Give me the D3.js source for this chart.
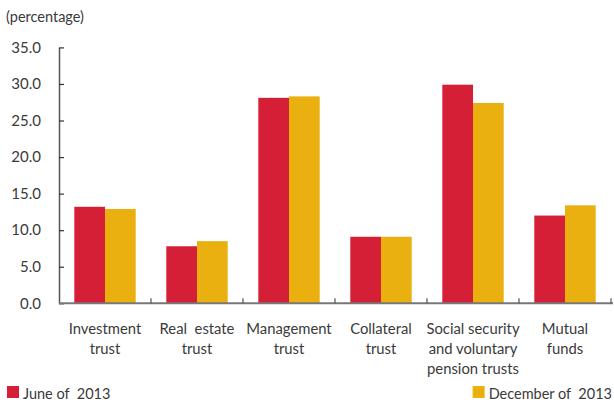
<!DOCTYPE html>
<html>
<head>
<meta charset="utf-8">
<script src="https://cdn.jsdelivr.net/npm/d3@7"></script>
<style>
  html, body { margin: 0; padding: 0; background: #fff; }
  svg { display: block; }
  text { font-family: Lato, "Open Sans", sans-serif; fill: #3a3a3a; }
</style>
</head>
<body>
<svg id="chart" width="614" height="402"></svg>
<script>
// Trust categories (each label split into lines)
const categories = [
  ["Investment", "trust"],
  ["Real  estate", "trust"],
  ["Management", "trust"],
  ["Collateral", "trust"],
  ["Social security", "and voluntary", "pension trusts"],
  ["Mutual", "funds"]
];
const seriesNames = ["June of  2013", "December of  2013"];
const june2013 = [13.2, 7.8, 28.1, 9.1, 29.9, 12.0];
const december2013 = [12.9, 8.5, 28.3, 9.1, 27.4, 13.4];
const yTicks = [0, 5, 10, 15, 20, 25, 30, 35];
const colors = ["#d51f36", "#e9b010"];

const svg = d3.select("#chart");
const plotLeft = 59, plotRight = 611, plotTop = 47.4, plotBottom = 303.3;

const keys = categories.map((c, i) => i);
const x0 = d3.scaleBand().domain(keys).range([plotLeft, plotRight]).padding(0);
const x1 = d3.scaleBand().domain([0, 1]).range([15.3, x0.bandwidth() - 15.3]).padding(0);
const y = d3.scaleLinear().domain([0, 35]).range([plotBottom, plotTop]);

const series = [june2013, december2013];

// Bars
const groups = svg.append("g").selectAll("g")
  .data(keys).join("g")
  .attr("transform", d => `translate(${x0(d)},0)`);
groups.selectAll("rect")
  .data(i => series.map((s, k) => ({ k, v: s[i] })))
  .join("rect")
  .attr("x", d => x1(d.k))
  .attr("width", x1.bandwidth())
  .attr("y", d => y(d.v))
  .attr("height", d => y(0) - y(d.v))
  .attr("fill", d => colors[d.k]);

// Y axis
const yAxis = d3.axisLeft(y).tickValues(yTicks).tickFormat(d3.format(".1f"))
  .tickSizeInner(-5).tickSizeOuter(0).tickPadding(18);
const gy = svg.append("g").attr("transform", `translate(${plotLeft},0)`).call(yAxis);
gy.select(".domain").attr("stroke", "#555").attr("stroke-width", 1.5);
gy.selectAll(".tick line").attr("stroke", "#333").attr("stroke-width", 1.2);
gy.selectAll(".tick text").style("font-size", "15px").attr("fill", "#3a3a3a")
  .style("font-family", "Lato, sans-serif");

// X axis with ticks at category boundaries
const xBoundaries = d3.range(keys.length + 1).map(i => plotLeft + i * x0.bandwidth());
const gx = svg.append("g");
gx.append("line")
  .attr("x1", plotLeft).attr("x2", plotRight + 2)
  .attr("y1", plotBottom).attr("y2", plotBottom)
  .attr("stroke", "#777").attr("stroke-width", 2);
gx.selectAll("line.tk").data(xBoundaries.slice(1)).join("line")
  .attr("class", "tk")
  .attr("x1", d => d).attr("x2", d => d)
  .attr("y1", plotBottom).attr("y2", plotBottom - 5)
  .attr("stroke", "#555").attr("stroke-width", 1.2);

// Category labels
const labels = svg.append("g").selectAll("text")
  .data(keys).join("text")
  .attr("text-anchor", "middle")
  .attr("x", d => x0(d) + x0.bandwidth() / 2)
  .attr("y", 334)
  .style("font-size", "14.8px");
labels.selectAll("tspan")
  .data(d => categories[d].map((line, j) => ({ line, j, cx: x0(d) + x0.bandwidth() / 2 })))
  .join("tspan")
  .attr("x", d => d.cx)
  .attr("dy", d => d.j === 0 ? 0 : 20)
  .style("white-space", "pre")
  .text(d => d.line);

// Unit label
svg.append("text").attr("x", 6).attr("y", 22).style("font-size", "14.5px").text("(percentage)");

// Legend: first entry at the left edge, second right-aligned to the edge
const legendY = 398.5;
const lg1 = svg.append("g");
lg1.append("rect").attr("x", 7).attr("y", 386).attr("width", 12).attr("height", 12).attr("fill", colors[0]);
lg1.append("text").attr("x", 23).attr("y", legendY)
  .style("font-size", "14.5px").style("white-space", "pre").text(seriesNames[0]);

const lg2 = svg.append("g");
const t2 = lg2.append("text").attr("x", 612).attr("y", legendY).attr("text-anchor", "end")
  .style("font-size", "14.5px").style("white-space", "pre").text(seriesNames[1]);
const w2 = t2.node().getComputedTextLength();
lg2.append("rect").attr("x", 612 - w2 - 16).attr("y", 386).attr("width", 12).attr("height", 12)
  .attr("fill", colors[1]);
</script>
</body>
</html>
